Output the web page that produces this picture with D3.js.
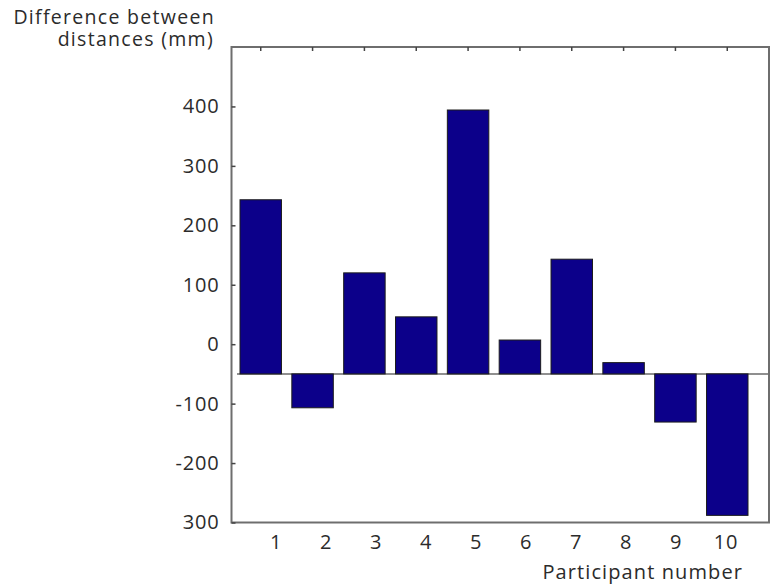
<!DOCTYPE html>
<html>
<head>
<meta charset="utf-8">
<script src="https://cdn.jsdelivr.net/npm/d3@7"></script>
<style>
  body { margin: 0; background: #fff; }
  text { font-family: "Open Sans", Lato, sans-serif; fill: #2b2b2b; }
</style>
</head>
<body>
<svg id="chart" width="773" height="586"></svg>
<script>
// participant numbers and the difference between distances (mm)
var participants = [1, 2, 3, 4, 5, 6, 7, 8, 9, 10];
var differences = [243, -107, 120, 46, 394, 7, 143, -31, -131, -288];
var baseline = -50;   // bars are drawn from this level, not from 0

// y tick values and the labels printed next to them (bottom one reads "300")
var yTicks = [400, 300, 200, 100, 0, -100, -200, -300];
var yTickLabels = ["400", "300", "200", "100", "0", "-100", "-200", "300"];

var margin = {top: 47, left: 231.5},
    width = 537.5,
    height = 475.5;

var svg = d3.select("#chart");
var g = svg.append("g").attr("transform", "translate(" + margin.left + "," + margin.top + ")");

var x = d3.scaleBand().domain(participants).range([8.5, 516.5]).paddingInner(0.2).paddingOuter(0);
var xLabel = d3.scalePoint().domain(participants).range([44, 494]);
var y = d3.scaleLinear().domain([-300, 500]).range([height, 0]);

// baseline line across the plot
g.append("line")
  .attr("x1", 5.5).attr("x2", width)
  .attr("y1", y(baseline)).attr("y2", y(baseline))
  .attr("stroke", "#6a6a6a").attr("stroke-width", 1.5);

// bars
g.selectAll("rect.bar")
  .data(differences)
  .enter().append("rect")
  .attr("class", "bar")
  .attr("x", function(d, i) { return x(participants[i]); })
  .attr("width", x.bandwidth())
  .attr("y", function(d) { return y(Math.max(d, baseline)); })
  .attr("height", function(d) { return Math.abs(y(d) - y(baseline)); })
  .attr("fill", "#0c008a")
  .attr("stroke", "#1c1c1c")
  .attr("stroke-width", 1);

// frame
g.append("rect")
  .attr("x", 0).attr("y", 0)
  .attr("width", width).attr("height", height)
  .attr("fill", "none")
  .attr("stroke", "#6e6e6e").attr("stroke-width", 2);

// left axis, ticks pointing in
var yAxis = g.append("g")
  .call(d3.axisLeft(y).tickValues(yTicks)
    .tickFormat(function(d, i) { return yTickLabels[i]; })
    .tickSizeInner(-4).tickSizeOuter(0).tickPadding(12));
yAxis.select(".domain").remove();
yAxis.selectAll("line").attr("stroke", "#444").attr("stroke-width", 1.5);
yAxis.selectAll("text").attr("font-size", 20).attr("letter-spacing", 0.8).attr("fill", "#2b2b2b");

// top axis, small ticks at bar centres
var topAxis = g.append("g")
  .call(d3.axisTop(x).tickFormat("").tickSizeInner(-4).tickSizeOuter(0));
topAxis.select(".domain").remove();
topAxis.selectAll("line").attr("stroke", "#444").attr("stroke-width", 1.5);

// bottom labels
var xAxis = g.append("g")
  .attr("transform", "translate(0," + height + ")")
  .call(d3.axisBottom(xLabel).tickSize(0).tickPadding(12));
xAxis.select(".domain").remove();
xAxis.selectAll("text").attr("font-size", 20).attr("letter-spacing", 0.8).attr("fill", "#2b2b2b");

// axis titles
var yTitle = svg.append("text")
  .attr("text-anchor", "end")
  .attr("font-size", 19.5)
  .attr("letter-spacing", 1.3);
yTitle.append("tspan").attr("x", 215).attr("y", 24).text("Difference between");
yTitle.append("tspan").attr("x", 214).attr("y", 46).text("distances (mm)");

svg.append("text")
  .attr("x", 743).attr("y", 579)
  .attr("text-anchor", "end")
  .attr("font-size", 20)
  .attr("letter-spacing", 1.1)
  .text("Participant number");
</script>
</body>
</html>
